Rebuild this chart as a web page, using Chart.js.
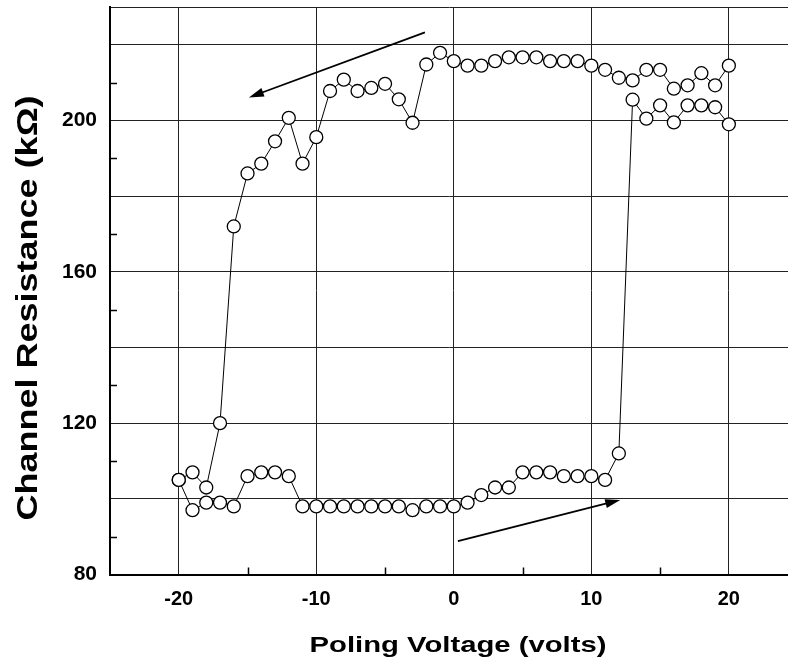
<!DOCTYPE html>
<html>
<head>
<meta charset="utf-8">
<script src="https://cdn.jsdelivr.net/npm/chart.js@4.4.0/dist/chart.umd.min.js"></script>
<style>
  html, body { margin: 0; padding: 0; background: #fff; }
</style>
</head>
<body>
<canvas id="chart" width="788" height="660"></canvas>
<script>
// poling voltage steps (volts)
const voltages = [-20, -19, -18, -17, -16, -15, -14, -13, -12, -11, -10, -9, -8, -7, -6, -5, -4, -3, -2, -1,
                  0, 1, 2, 3, 4, 5, 6, 7, 8, 9, 10, 11, 12, 13, 14, 15, 16, 17, 18, 19, 20];

// channel resistance (kOhm), sweep -20 -> +20
const forwardSweep = [105, 97, 99, 99, 98, 106, 107, 107, 106, 98, 98, 98, 98, 98, 98, 98, 98, 97, 98, 98,
                      98, 99, 101, 103, 103, 107, 107, 107, 106, 106, 106, 105, 112, 205.5, 200.5, 204, 199.5, 204, 204, 203.5, 199];

// channel resistance (kOhm), sweep +20 -> -20 (listed by voltage)
const reverseSweep = [105, 107, 103, 120, 172, 186, 188.6, 194.5, 200.7, 188.6, 195.6, 207.8, 210.8, 207.8, 208.6, 209.7, 205.6, 199.4, 214.8, 217.9,
                      215.7, 214.5, 214.5, 215.7, 216.7, 216.7, 216.7, 215.7, 215.7, 215.7, 214.5, 213.4, 211.3, 210.6, 213.4, 213.4, 208.4, 209.3, 212.5, 209.3, 214.5];

const xTicks = [-20, -10, 0, 10, 20];
const xMinorTicks = [-15, -5, 5, 15];
const yTicks = [80, 100, 120, 140, 160, 180, 200, 220, 230];
const yLabels = [80, 120, 160, 200];
const yMinorTicks = [90, 110, 130, 150, 170, 190, 210];

// sweep direction arrows, in data units
const arrows = [
    { from: [-2.1, 223.3], to: [-14.9, 206.1] },
    { from: [0.3, 88.8], to: [12.1, 99.7] }
];

const fontFamily = '"Liberation Sans", Arial, sans-serif';

function toPoints(values) {
    return voltages.map((v, i) => ({ x: v, y: values[i] }));
}

function stretchedText(ctx, text, x, y, angle, sx) {
    ctx.save();
    ctx.translate(x, y);
    ctx.rotate(angle);
    ctx.scale(sx, 1);
    ctx.fillText(text, 0, 0);
    ctx.restore();
}

const decorations = {
    id: 'decorations',
    afterDraw(chart) {
        const ctx = chart.ctx;
        const xs = chart.scales.x;
        const ys = chart.scales.y;
        const area = chart.chartArea;

        ctx.save();
        ctx.strokeStyle = '#000';
        ctx.lineWidth = 1.5;
        // minor ticks, pointing inwards
        xMinorTicks.forEach(v => {
            const px = Math.round(xs.getPixelForValue(v)) + 0.5;
            ctx.beginPath();
            ctx.moveTo(px, area.bottom);
            ctx.lineTo(px, area.bottom - 7);
            ctx.stroke();
        });
        yMinorTicks.forEach(v => {
            const py = Math.round(ys.getPixelForValue(v)) + 0.5;
            ctx.beginPath();
            ctx.moveTo(area.left, py);
            ctx.lineTo(area.left + 7, py);
            ctx.stroke();
        });

        // arrows
        ctx.lineWidth = 1.8;
        ctx.fillStyle = '#000';
        arrows.forEach(a => {
            const x1 = xs.getPixelForValue(a.from[0]), y1 = ys.getPixelForValue(a.from[1]);
            const x2 = xs.getPixelForValue(a.to[0]), y2 = ys.getPixelForValue(a.to[1]);
            const ang = Math.atan2(y2 - y1, x2 - x1);
            const len = 15, half = 4.5;
            ctx.beginPath();
            ctx.moveTo(x1, y1);
            ctx.lineTo(x2 - Math.cos(ang) * len * 0.8, y2 - Math.sin(ang) * len * 0.8);
            ctx.stroke();
            ctx.beginPath();
            ctx.moveTo(x2, y2);
            ctx.lineTo(x2 - Math.cos(ang) * len - Math.sin(ang) * half, y2 - Math.sin(ang) * len + Math.cos(ang) * half);
            ctx.lineTo(x2 - Math.cos(ang) * len + Math.sin(ang) * half, y2 - Math.sin(ang) * len - Math.cos(ang) * half);
            ctx.closePath();
            ctx.fill();
        });

        // axis titles
        ctx.fillStyle = '#000';
        ctx.textAlign = 'center';
        ctx.textBaseline = 'alphabetic';
        ctx.font = 'bold 22px ' + fontFamily;
        stretchedText(ctx, 'Poling Voltage (volts)', 458, 652, 0, 1.33);
        ctx.font = 'bold 30px ' + fontFamily;
        stretchedText(ctx, 'Channel Resistance (k\u03A9)', 37, 308, -Math.PI / 2, 1.2);
        ctx.restore();
    }
};

const seriesStyle = {
    showLine: true,
    borderColor: '#000',
    borderWidth: 1,
    pointRadius: 6.5,
    pointBorderWidth: 1.3,
    pointBackgroundColor: '#fff',
    pointBorderColor: '#000',
    tension: 0
};

new Chart(document.getElementById('chart'), {
    type: 'scatter',
    data: {
        datasets: [
            Object.assign({ label: 'Sweep up', data: toPoints(forwardSweep) }, seriesStyle),
            Object.assign({ label: 'Sweep down', data: toPoints(reverseSweep) }, seriesStyle)
        ]
    },
    options: {
        responsive: false,
        animation: false,
        devicePixelRatio: 1,
        layout: { autoPadding: false, padding: { left: 0, top: 7, right: 0, bottom: 0 } },
        plugins: {
            legend: { display: false },
            tooltip: { enabled: false }
        },
        scales: {
            x: {
                type: 'linear',
                min: -25,
                max: 24.3,
                afterBuildTicks: s => { s.ticks = xTicks.map(v => ({ value: v })); },
                afterFit: s => {
                    s.height = 85.5;
                    s.paddingLeft = 0;
                    s.paddingRight = 0;
                },
                grid: { color: '#222', lineWidth: 1, drawTicks: false },
                border: { color: '#000', width: 2 },
                ticks: {
                    color: '#000',
                    padding: 13,
                    font: { family: fontFamily, size: 20, weight: 'bold' },
                    callback: v => String(v)
                }
            },
            y: {
                type: 'linear',
                min: 80,
                max: 230,
                afterBuildTicks: s => { s.ticks = yTicks.map(v => ({ value: v })); },
                afterFit: s => {
                    s.width = 110;
                    s.paddingTop = 0;
                    s.paddingBottom = 0;
                },
                grid: { color: '#222', lineWidth: 1, drawTicks: false },
                border: { color: '#000', width: 2 },
                ticks: {
                    color: '#000',
                    padding: 13,
                    font: { family: fontFamily, size: 21, weight: 'bold' },
                    callback: v => (yLabels.includes(v) ? String(v) : '')
                }
            }
        }
    },
    plugins: [decorations]
});
</script>
</body>
</html>
